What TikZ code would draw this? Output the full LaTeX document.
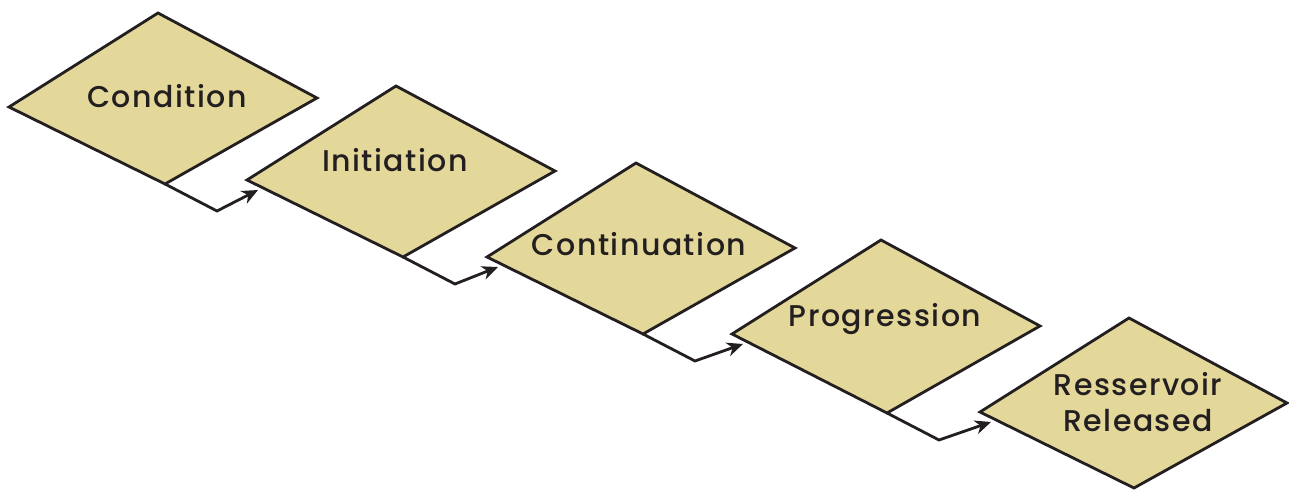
\documentclass[tikz,border=0pt]{standalone}
\usepackage{fontspec}
\setmainfont{Poppins Medium}[LetterSpace=5]
\usetikzlibrary{arrows.meta,calc}
\definecolor{khaki}{HTML}{E3D899}
\definecolor{ink}{HTML}{231F20}
\tikzset{
  stage/.style={fill=khaki,draw=ink,line width=2.8pt,line join=miter},
  stagetext/.style={text=ink,font=\fontsize{30}{36}\selectfont,align=center,inner sep=0pt},
  link/.style={draw=ink,line width=2.8pt,-{Stealth[length=16pt,width=14pt,inset=5pt]}}
}
\begin{document}
\begin{tikzpicture}[x=1pt,y=1pt]
\useasboundingbox (0,0) rectangle (1289,491);
% Condition
\coordinate (Al) at (9,384);
\coordinate (At) at (158,478);
\coordinate (Ar) at (317,393);
\coordinate (Ab) at (165,307);
\path[stage] (Al) -- (At) -- (Ar) -- (Ab) -- cycle;
% Initiation
\coordinate (Bl) at (247,311);
\coordinate (Bt) at (396,405);
\coordinate (Br) at (555,320);
\coordinate (Bb) at (403,234);
\coordinate (Bi) at (258,301);
\path[stage] (Bl) -- (Bt) -- (Br) -- (Bb) -- cycle;
% Continuation
\coordinate (Cl) at (487,234);
\coordinate (Ct) at (636,328);
\coordinate (Cr) at (795,243);
\coordinate (Cb) at (643,157);
\coordinate (Ci) at (498,224);
\path[stage] (Cl) -- (Ct) -- (Cr) -- (Cb) -- cycle;
% Progression
\coordinate (Dl) at (732,157);
\coordinate (Dt) at (881,251);
\coordinate (Dr) at (1040,165);
\coordinate (Db) at (887,78);
\coordinate (Di) at (743,147);
\path[stage] (Dl) -- (Dt) -- (Dr) -- (Db) -- cycle;
% Reservoir
\coordinate (El) at (980,79);
\coordinate (Et) at (1129,173);
\coordinate (Er) at (1287,88);
\coordinate (Eb) at (1134,3);
\coordinate (Ei) at (991,69);
\path[stage] (El) -- (Et) -- (Er) -- (Eb) -- cycle;
\node[stagetext] (tA) at (167,395) {Condition};
\node[stagetext] (tB) at (395,331) {Initiation};
\node[stagetext] (tC) at (639,247) {Continuation};
\node[stagetext] (tD) at (885,172) {Progression};
\node[stagetext] (tE) at (1138,89) {Resservoir\\Released};
\draw[link] (Ab) -- ++(52,-27) -- (Bi);
\draw[link] (Bb) -- ++(52,-27) -- (Ci);
\draw[link] (Cb) -- ++(52,-27) -- (Di);
\draw[link] (Db) -- ++(52,-27) -- (Ei);
\end{tikzpicture}
\end{document}
